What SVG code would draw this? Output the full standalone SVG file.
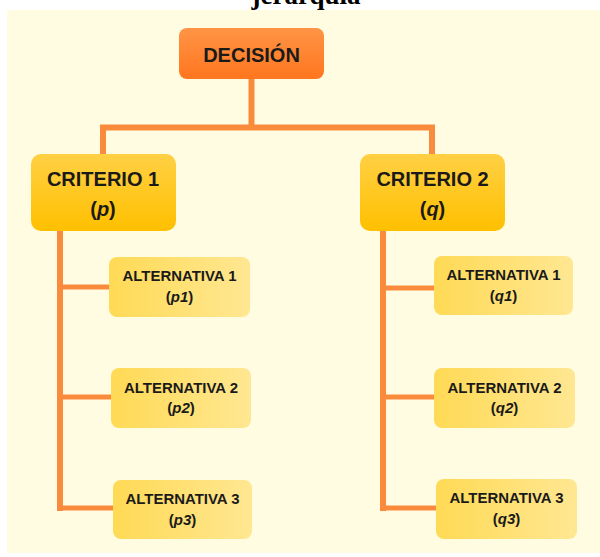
<svg xmlns="http://www.w3.org/2000/svg" width="600" height="557" viewBox="0 0 600 557">
  <style>
    .title { font-family: "Liberation Serif", "Times New Roman", serif; font-weight: bold; font-size: 27px; fill: #000; text-anchor: middle; }
    .big { font-family: "Liberation Sans", Arial, sans-serif; font-weight: bold; font-size: 20px; fill: #1a1a1a; text-anchor: middle; }
    .small { font-family: "Liberation Sans", Arial, sans-serif; font-weight: bold; font-size: 15px; fill: #1a1a1a; text-anchor: middle; }
    .it { font-style: italic; }
    .conn { stroke: #FA8B3C; fill: none; stroke-linecap: square; }
    .main { stroke-width: 6; }
    .sub { stroke-width: 5; }
  </style>
  <defs>
    <linearGradient id="gDec" x1="0" y1="0" x2="0" y2="1">
      <stop offset="0" stop-color="#FF9446"/>
      <stop offset="1" stop-color="#FF761E"/>
    </linearGradient>
    <linearGradient id="gCrit" x1="0" y1="0" x2="0" y2="1">
      <stop offset="0" stop-color="#FFD044"/>
      <stop offset="1" stop-color="#FFC000"/>
    </linearGradient>
    <linearGradient id="gAlt" x1="0" y1="0" x2="1" y2="0">
      <stop offset="0" stop-color="#FFDA55"/>
      <stop offset="1" stop-color="#FFE792"/>
    </linearGradient>
  </defs>

  <rect x="0" y="0" width="600" height="557" fill="#FFFFFF"/>
  <rect x="7" y="10" width="593" height="543" fill="#FFFCE1"/>
  <text class="title" x="306" y="4">jerarquía</text>

  <g id="connectors">
    <path class="conn main" d="M251.5 79 V127.5 M103 127.5 H432 M103 127.5 V154 M432 127.5 V154"/>
    <path class="conn main" d="M60 231 V508"/>
    <path class="conn main" d="M383 231 V508"/>
    <path class="conn sub" d="M60 287 H109 M60 397 H111 M60 508 H113"/>
    <path class="conn sub" d="M383 288 H434 M383 397 H434 M383 508 H436"/>
  </g>

  <g id="decision">
    <rect x="179" y="28" width="145" height="51" rx="8" fill="url(#gDec)"/>
    <text class="big" x="251.5" y="62">DECISIÓN</text>
  </g>

  <g id="criterio1">
    <rect x="31" y="154" width="145" height="77" rx="10" fill="url(#gCrit)"/>
    <text class="big" x="103" y="186">CRITERIO 1</text>
    <text class="big" x="103" y="216">(<tspan class="it">p</tspan>)</text>
  </g>

  <g id="criterio2">
    <rect x="360" y="154" width="145" height="77" rx="10" fill="url(#gCrit)"/>
    <text class="big" x="432.5" y="186">CRITERIO 2</text>
    <text class="big" x="432.5" y="216">(<tspan class="it">q</tspan>)</text>
  </g>

  <g id="alt-p1">
    <rect x="109" y="257" width="141" height="60" rx="8" fill="url(#gAlt)"/>
    <text class="small" x="179.5" y="281" textLength="114" lengthAdjust="spacingAndGlyphs">ALTERNATIVA 1</text>
    <text class="small" x="179.5" y="301.5">(<tspan class="it">p1</tspan>)</text>
  </g>
  <g id="alt-p2">
    <rect x="111" y="368" width="140" height="60" rx="8" fill="url(#gAlt)"/>
    <text class="small" x="181" y="392.5" textLength="114" lengthAdjust="spacingAndGlyphs">ALTERNATIVA 2</text>
    <text class="small" x="181" y="413">(<tspan class="it">p2</tspan>)</text>
  </g>
  <g id="alt-p3">
    <rect x="113" y="480" width="139" height="59" rx="8" fill="url(#gAlt)"/>
    <text class="small" x="182.5" y="504" textLength="114" lengthAdjust="spacingAndGlyphs">ALTERNATIVA 3</text>
    <text class="small" x="182.5" y="524.5">(<tspan class="it">p3</tspan>)</text>
  </g>

  <g id="alt-q1">
    <rect x="434" y="256" width="139" height="59" rx="8" fill="url(#gAlt)"/>
    <text class="small" x="503.5" y="280" textLength="114" lengthAdjust="spacingAndGlyphs">ALTERNATIVA 1</text>
    <text class="small" x="503.5" y="300.5">(<tspan class="it">q1</tspan>)</text>
  </g>
  <g id="alt-q2">
    <rect x="434" y="368" width="141" height="60" rx="8" fill="url(#gAlt)"/>
    <text class="small" x="504.5" y="392.5" textLength="114" lengthAdjust="spacingAndGlyphs">ALTERNATIVA 2</text>
    <text class="small" x="504.5" y="413">(<tspan class="it">q2</tspan>)</text>
  </g>
  <g id="alt-q3">
    <rect x="436" y="479" width="141" height="60" rx="8" fill="url(#gAlt)"/>
    <text class="small" x="506.5" y="503" textLength="114" lengthAdjust="spacingAndGlyphs">ALTERNATIVA 3</text>
    <text class="small" x="506.5" y="523.5">(<tspan class="it">q3</tspan>)</text>
  </g>
</svg>
